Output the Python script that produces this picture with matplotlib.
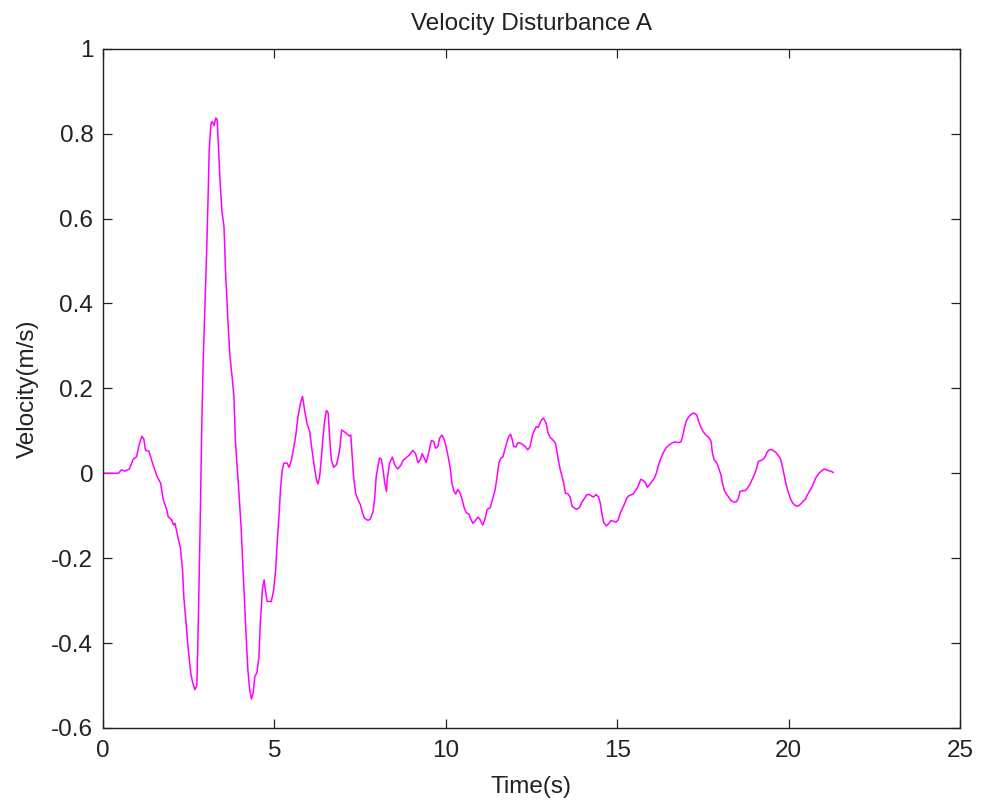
import matplotlib
matplotlib.use("Agg")
import matplotlib.pyplot as plt

# Recorded velocity trace (time in s, velocity in m/s)
time_s = [
    0.00, 0.45, 0.54, 0.64, 0.77, 0.88, 0.98, 1.04, 1.13, 1.19, 1.24, 1.34, 1.46, 1.58, 1.68,
    1.76, 1.86, 1.90, 2.00, 2.06, 2.10, 2.18, 2.26, 2.32, 2.36, 2.42, 2.47, 2.52, 2.56, 2.61,
    2.68, 2.74, 2.78, 2.83, 2.88, 2.92, 2.97, 3.02, 3.06, 3.10, 3.15, 3.19, 3.24, 3.29, 3.33,
    3.36, 3.41, 3.47, 3.53, 3.58, 3.64, 3.70, 3.76, 3.82, 3.84, 3.86, 3.91, 3.97, 4.03, 4.09,
    4.14, 4.19, 4.23, 4.28, 4.33, 4.38, 4.43, 4.49, 4.55, 4.59, 4.65, 4.70, 4.75, 4.79, 4.91,
    4.98, 5.04, 5.08, 5.14, 5.18, 5.23, 5.28, 5.37, 5.43, 5.50, 5.55, 5.62, 5.69, 5.76, 5.82,
    5.89, 5.95, 6.03, 6.11, 6.18, 6.23, 6.27, 6.32, 6.37, 6.42, 6.47, 6.52, 6.57, 6.61, 6.66,
    6.73, 6.81, 6.86, 6.91, 6.96, 7.02, 7.10, 7.18, 7.23, 7.27, 7.31, 7.37, 7.44, 7.51, 7.57,
    7.63, 7.73, 7.80, 7.88, 7.93, 7.97, 8.02, 8.07, 8.12, 8.17, 8.22, 8.27, 8.29, 8.36, 8.44,
    8.51, 8.60, 8.70, 8.75, 8.84, 8.94, 9.04, 9.12, 9.19, 9.26, 9.31, 9.36, 9.43, 9.51, 9.58,
    9.65, 9.70, 9.77, 9.82, 9.89, 9.95, 10.01, 10.07, 10.13, 10.18, 10.23, 10.29, 10.35, 10.42,
    10.48, 10.54, 10.60, 10.67, 10.72, 10.79, 10.86, 10.94, 11.00, 11.08, 11.15, 11.21, 11.30,
    11.36, 11.44, 11.49, 11.55, 11.61, 11.67, 11.72, 11.78, 11.84, 11.89, 11.94, 11.98, 12.05,
    12.10, 12.18, 12.25, 12.33, 12.39, 12.46, 12.52, 12.59, 12.64, 12.70, 12.78, 12.85, 12.93,
    12.98, 13.04, 13.12, 13.20, 13.25, 13.30, 13.34, 13.39, 13.44, 13.49, 13.56, 13.63, 13.68,
    13.75, 13.82, 13.90, 13.98, 14.05, 14.11, 14.19, 14.26, 14.32, 14.38, 14.46, 14.51, 14.56,
    14.61, 14.68, 14.76, 14.82, 14.89, 14.97, 15.03, 15.09, 15.16, 15.22, 15.28, 15.34, 15.40,
    15.47, 15.53, 15.60, 15.65, 15.69, 15.76, 15.82, 15.88, 15.94, 16.02, 16.09, 16.15, 16.21,
    16.28, 16.35, 16.42, 16.52, 16.62, 16.71, 16.79, 16.86, 16.91, 16.96, 17.01, 17.08, 17.15,
    17.22, 17.32, 17.37, 17.44, 17.51, 17.59, 17.67, 17.74, 17.78, 17.83, 17.91, 17.96, 18.03,
    18.07, 18.13, 18.19, 18.25, 18.32, 18.40, 18.48, 18.54, 18.58, 18.66, 18.74, 18.80, 18.87,
    18.93, 19.00, 19.07, 19.12, 19.19, 19.26, 19.32, 19.37, 19.43, 19.50, 19.56, 19.63, 19.71,
    19.77, 19.82, 19.87, 19.92, 19.97, 20.02, 20.07, 20.13, 20.21, 20.29, 20.36, 20.42, 20.50,
    20.55, 20.62, 20.70, 20.75, 20.81, 20.89, 20.97, 21.04, 21.11, 21.18, 21.26, 21.30,
]

velocity = [
    0.000, 0.000, 0.008, 0.005, 0.010, 0.033, 0.039, 0.063, 0.087, 0.081, 0.054, 0.052, 0.020, -0.008, -0.023,
    -0.063, -0.086, -0.102, -0.110, -0.122, -0.118, -0.149, -0.177, -0.228, -0.294, -0.349, -0.400, -0.440, -0.471, -0.491,
    -0.510, -0.499, -0.353, -0.141, 0.102, 0.255, 0.383, 0.513, 0.632, 0.764, 0.823, 0.829, 0.819, 0.837, 0.834,
    0.784, 0.695, 0.617, 0.581, 0.467, 0.366, 0.279, 0.232, 0.182, 0.130, 0.079, 0.020, -0.051, -0.129, -0.235,
    -0.322, -0.408, -0.467, -0.510, -0.532, -0.518, -0.479, -0.470, -0.432, -0.353, -0.275, -0.251, -0.283, -0.302, -0.302,
    -0.275, -0.224, -0.165, -0.094, -0.035, 0.008, 0.024, 0.024, 0.014, 0.032, 0.054, 0.087, 0.134, 0.165, 0.181,
    0.145, 0.118, 0.098, 0.047, 0.008, -0.016, -0.025, -0.008, 0.036, 0.087, 0.126, 0.148, 0.142, 0.087, 0.032,
    0.014, 0.020, 0.036, 0.059, 0.102, 0.099, 0.094, 0.088, 0.090, 0.039, -0.008, -0.047, -0.063, -0.074, -0.094,
    -0.106, -0.111, -0.108, -0.090, -0.055, -0.008, 0.016, 0.036, 0.033, 0.008, -0.023, -0.043, -0.016, 0.024, 0.038,
    0.020, 0.010, 0.020, 0.030, 0.036, 0.043, 0.054, 0.046, 0.025, 0.033, 0.046, 0.038, 0.025, 0.051, 0.077,
    0.075, 0.059, 0.063, 0.083, 0.090, 0.080, 0.063, 0.039, 0.012, -0.023, -0.041, -0.049, -0.038, -0.047,
    -0.063, -0.082, -0.093, -0.096, -0.106, -0.118, -0.112, -0.103, -0.109, -0.122, -0.106, -0.085, -0.081,
    -0.063, -0.039, -0.012, 0.024, 0.036, 0.039, 0.055, 0.072, 0.087, 0.092, 0.079, 0.063, 0.062,
    0.072, 0.071, 0.067, 0.062, 0.055, 0.063, 0.087, 0.102, 0.110, 0.108, 0.124, 0.130, 0.118,
    0.096, 0.085, 0.079, 0.071, 0.047, 0.024, 0.008, -0.006, -0.023, -0.047, -0.048, -0.056, -0.077,
    -0.082, -0.085, -0.081, -0.067, -0.059, -0.051, -0.050, -0.054, -0.056, -0.050, -0.056, -0.071, -0.098,
    -0.116, -0.124, -0.118, -0.111, -0.113, -0.115, -0.110, -0.094, -0.082, -0.071, -0.059, -0.053, -0.051,
    -0.049, -0.041, -0.033, -0.022, -0.014, -0.017, -0.022, -0.033, -0.028, -0.019, -0.011, 0.002, 0.020,
    0.036, 0.049, 0.059, 0.067, 0.072, 0.074, 0.072, 0.074, 0.087, 0.106, 0.122, 0.132, 0.138,
    0.142, 0.138, 0.124, 0.109, 0.098, 0.090, 0.085, 0.075, 0.047, 0.032, 0.024, 0.012, -0.004,
    -0.023, -0.041, -0.049, -0.056, -0.064, -0.068, -0.067, -0.059, -0.043, -0.041, -0.041, -0.035, -0.027,
    -0.016, -0.004, 0.012, 0.028, 0.030, 0.033, 0.039, 0.049, 0.055, 0.056, 0.053, 0.049, 0.041,
    0.033, 0.016, -0.004, -0.023, -0.039, -0.051, -0.063, -0.071, -0.077, -0.077, -0.072, -0.067, -0.060,
    -0.051, -0.041, -0.030, -0.019, -0.009, 0.000, 0.006, 0.010, 0.008, 0.006, 0.004, 0.002,
]

x_ticks = [0, 5, 10, 15, 20, 25]
y_ticks = [-0.6, -0.4, -0.2, 0, 0.2, 0.4, 0.6, 0.8, 1]
y_tick_labels = ["-0.6", "-0.4", "-0.2", "0", "0.2", "0.4", "0.6", "0.8", "1"]

plt.rcParams["font.family"] = ["Liberation Sans", "DejaVu Sans"]
TEXT_SIZE = 17.5
INK = "#222222"

fig = plt.figure(figsize=(9.81, 8.07), dpi=100)
ax = fig.add_axes([0.105, 0.098, 0.8735, 0.8415])

ax.plot(time_s, velocity, color="#FF00FF", linewidth=1.1)

ax.set_xlim(0, 25)
ax.set_ylim(-0.6, 1)
ax.set_xticks(x_ticks)
ax.set_xticklabels([str(t) for t in x_ticks])
ax.set_yticks(y_ticks)
ax.set_yticklabels(y_tick_labels)

ax.tick_params(direction="in", length=6.5, width=0.9, top=True, right=True,
               labelsize=TEXT_SIZE, colors=INK)
ax.tick_params(axis="x", pad=9)
ax.tick_params(axis="y", pad=7)
for spine in ax.spines.values():
    spine.set_linewidth(1.0)
    spine.set_color(INK)

ax.set_title("Velocity Disturbance A", fontsize=TEXT_SIZE, pad=13.5, color=INK)
ax.set_xlabel("Time(s)", fontsize=TEXT_SIZE, labelpad=10, color=INK)
ax.set_ylabel("Velocity(m/s)", fontsize=TEXT_SIZE, labelpad=9, color=INK)

fig.savefig("out.png", dpi=100)
